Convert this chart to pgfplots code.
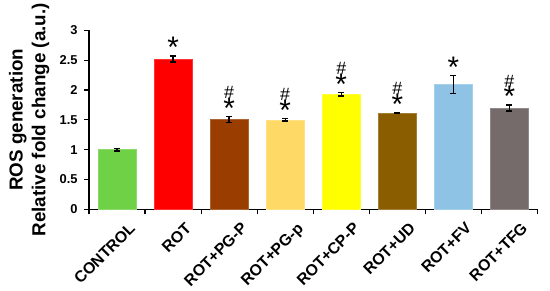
\documentclass[border=0pt]{standalone}
\usepackage{pgfplots}
\pgfplotsset{compat=1.18}
\usepackage{fontspec}
\setmainfont{Liberation Sans}

\definecolor{cctrl}{HTML}{6FD146}
\definecolor{crot}{HTML}{FF0000}
\definecolor{cpgP}{HTML}{993D00}
\definecolor{cpgp}{HTML}{FFD966}
\definecolor{ccpp}{HTML}{FFFF00}
\definecolor{cud}{HTML}{8A5E00}
\definecolor{cfv}{HTML}{8EC3E6}
\definecolor{ctfg}{HTML}{766B6B}

\begin{document}
\begin{tikzpicture}
\begin{axis}[
  scale only axis,
  width=453pt, height=181pt,
  xmin=0, xmax=8,
  ymin=0, ymax=3,
  ytick={0,0.5,...,3},
  xtick={0,...,8},
  xticklabels={},
  extra x ticks={0.5,1.5,...,7.5},
  extra x tick labels={CONTROL,ROT,ROT+PG-P,ROT+PG-p,ROT+CP-P,ROT+UD,ROT+FV,ROT+TFG},
  extra x tick style={tick style={draw=none}},
  axis x line*=bottom,
  axis y line*=left,
  axis line style={line width=1.2pt},
  tick style={line width=1.2pt, black},
  major tick length=5pt,
  tick align=outside,
  /pgf/number format/assume math mode=true,
  yticklabel style={font=\fontsize{13}{13}\selectfont\bfseries, xshift=-3pt},
  xticklabel style={font=\fontsize{16}{16}\selectfont\bfseries, rotate=45, anchor=north east, inner sep=1pt, xshift=4pt, yshift=-12pt},
  ylabel={ROS generation\\Relative fold change (a.u.)},
  ylabel style={align=center, font=\fontsize{19}{23}\selectfont\bfseries, inner ysep=9pt, yshift=-2pt},
  ybar, bar width=39pt, bar shift=0pt,
  error bars/y dir=both, error bars/y explicit,
  error bars/error bar style={line width=1.3pt, black},
  error bars/error mark options={rotate=90, mark size=3pt, line width=1.3pt, black},
]
\addplot[fill=cctrl, draw=cctrl!80!white] coordinates {(0.5,1.00) +- (0,0.02)};
\addplot[fill=crot, draw=crot!80!white] coordinates {(1.5,2.52) +- (0,0.05)};
\addplot[fill=cpgP, draw=cpgP!80!white] coordinates {(2.5,1.51) +- (0,0.05)};
\addplot[fill=cpgp, draw=cpgp!80!white] coordinates {(3.5,1.50) +- (0,0.02)};
\addplot[fill=ccpp, draw=ccpp!80!white] coordinates {(4.5,1.93) +- (0,0.03)};
\addplot[fill=cud, draw=cud!80!white] coordinates {(5.5,1.61) +- (0,0.01)};
\addplot[fill=cfv, draw=cfv!80!white] coordinates {(6.5,2.09) +- (0,0.15)};
\addplot[fill=ctfg, draw=ctfg!80!white] coordinates {(7.5,1.70) +- (0,0.05)};
% asterisks (vs control), placed at bar top + error
\addplot[draw=none, fill=none, forget plot, error bars/y dir=none,
  nodes near coords, point meta=explicit symbolic,
  every node near coord/.style={anchor=base, inner sep=0pt,
    font=\fontsize{30}{30}\selectfont, yshift=-2pt}]
  coordinates {
  (1.5,2.57) [*]
  (2.5,1.56) [*]
  (3.5,1.52) [*]
  (4.5,1.96) [*]
  (5.5,1.62) [*]
  (6.5,2.24) [*]
  (7.5,1.75) [*]
  };
% hash marks (vs ROT)
\addplot[draw=none, fill=none, forget plot, error bars/y dir=none,
  nodes near coords, point meta=explicit symbolic,
  every node near coord/.style={anchor=base, inner sep=0pt,
    font=\fontsize{18}{18}\selectfont, yshift=18pt}]
  coordinates {
  (2.5,1.56) [\#]
  (3.5,1.52) [\#]
  (4.5,1.96) [\#]
  (5.5,1.62) [\#]
  (7.5,1.75) [\#]
  };
\end{axis}
\end{tikzpicture}
\end{document}
